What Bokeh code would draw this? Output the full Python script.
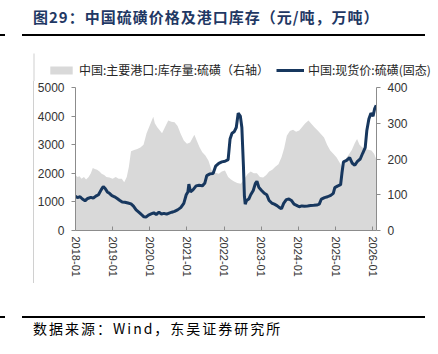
import math
import pandas as pd
from bokeh.plotting import figure
from bokeh.models import (Range1d, LinearAxis, Div, Legend, LegendItem, FixedTicker,
                          DatetimeTickFormatter, BoxAnnotation)
from bokeh.layouts import column, row
from bokeh.embed import file_html
from bokeh.resources import INLINE

title_text = "图29：中国硫磺价格及港口库存（元/吨，万吨）"
source_text = "数据来源：Wind，东吴证券研究所"
stock_label = "中国:主要港口:库存量:硫磺（右轴）"
price_label = "中国:现货价:硫磺(固态)"

price_dates = [
    "2018-01-01", "2018-01-20", "2018-02-15", "2018-03-10", "2018-04-05", "2018-05-01",
    "2018-06-01", "2018-06-25", "2018-07-20", "2018-08-15", "2018-09-10", "2018-10-01",
    "2018-10-20", "2018-11-10", "2018-12-01", "2018-12-25", "2019-01-20", "2019-02-15",
    "2019-03-10", "2019-04-05", "2019-05-01", "2019-06-01", "2019-07-01", "2019-07-25",
    "2019-08-20", "2019-09-15", "2019-10-10", "2019-11-05", "2019-11-25", "2019-12-20",
    "2020-01-15", "2020-02-10", "2020-03-05", "2020-04-01", "2020-04-25", "2020-05-20",
    "2020-06-15", "2020-07-10", "2020-08-05", "2020-09-01", "2020-10-01", "2020-11-01",
    "2020-12-01", "2020-12-25", "2021-01-10", "2021-01-20", "2021-02-05", "2021-03-01",
    "2021-04-01", "2021-05-01", "2021-06-01", "2021-06-25", "2021-07-15", "2021-08-15",
    "2021-09-15", "2021-10-10", "2021-11-10", "2021-12-10", "2022-01-10", "2022-02-10",
    "2022-03-01", "2022-03-20", "2022-04-10", "2022-05-01", "2022-05-20", "2022-06-10",
    "2022-06-25", "2022-07-10", "2022-07-20", "2022-07-28", "2022-08-10", "2022-09-01",
    "2022-09-20", "2022-10-15", "2022-11-05", "2022-11-20", "2022-12-10", "2023-01-05",
    "2023-02-01", "2023-02-25", "2023-03-20", "2023-04-15", "2023-05-10", "2023-06-05",
    "2023-06-30", "2023-07-20", "2023-08-10", "2023-09-05", "2023-10-01", "2023-10-25",
    "2023-11-20", "2023-12-15", "2024-01-10", "2024-02-05", "2024-03-01", "2024-04-01",
    "2024-05-01", "2024-06-01", "2024-07-01", "2024-07-25", "2024-08-15", "2024-09-15",
    "2024-10-15", "2024-11-15", "2024-12-10", "2024-12-25", "2025-01-20", "2025-02-20",
    "2025-03-05", "2025-03-20", "2025-04-20", "2025-05-20", "2025-06-15", "2025-07-10",
    "2025-08-05", "2025-09-01", "2025-09-25", "2025-10-20", "2025-11-05", "2025-11-25",
    "2025-12-15", "2026-01-05", "2026-01-20", "2026-02-05",
]
price_values = [
    1200, 1150, 1180, 1100, 1040, 1120,
    1160, 1130, 1200, 1250, 1420, 1540,
    1470, 1350, 1300, 1220, 1180, 1120,
    1060, 1000, 990, 960, 930, 850,
    720, 640, 560, 480, 470, 540,
    580, 620, 560, 640, 580, 600,
    570, 610, 640, 670, 720, 800,
    950, 1250, 1350, 1620, 1350, 1420,
    1560, 1580, 1560, 1650, 1920, 1980,
    1990, 2250, 2350, 2400, 2420, 2480,
    3200, 3400, 3450, 3600, 4100, 4000,
    3600, 2300, 1200, 920, 1050, 1100,
    1250, 1400, 1650, 1720, 1500, 1400,
    1300, 1250, 1050, 960, 920, 870,
    800, 760, 950, 1080, 1100, 1050,
    920, 880, 830, 860, 850, 860,
    870, 880, 890, 920, 1100, 1150,
    1180, 1230, 1300, 1500, 1550, 1600,
    2000, 2400, 2450, 2550, 2350, 2280,
    2420, 2500, 2700, 2900, 3500, 3900,
    4100, 4000, 4250, 4380,
]

stock_dates = [
    "2018-01-01", "2018-01-20", "2018-02-10", "2018-03-01", "2018-03-25", "2018-04-15",
    "2018-05-10", "2018-06-01", "2018-06-20", "2018-07-10", "2018-08-01", "2018-08-25",
    "2018-09-15", "2018-10-10", "2018-11-01", "2018-12-01", "2019-01-01", "2019-02-01",
    "2019-03-01", "2019-04-01", "2019-04-25", "2019-05-20", "2019-06-10", "2019-07-01",
    "2019-08-01", "2019-09-01", "2019-10-01", "2019-11-01", "2019-12-01", "2020-01-10",
    "2020-02-05", "2020-02-20", "2020-03-15", "2020-04-10", "2020-05-01", "2020-06-01",
    "2020-07-01", "2020-08-01", "2020-09-01", "2020-10-01", "2020-11-01", "2020-12-01",
    "2021-01-01", "2021-02-01", "2021-03-15", "2021-04-10", "2021-05-05", "2021-06-01",
    "2021-07-01", "2021-08-01", "2021-09-01", "2021-10-01", "2021-11-10", "2021-12-10",
    "2022-01-10", "2022-02-10", "2022-03-10", "2022-04-10", "2022-05-10", "2022-06-15",
    "2022-07-20", "2022-08-20", "2022-09-20", "2022-10-20", "2022-11-20", "2022-12-20",
    "2023-01-20", "2023-02-20", "2023-03-20", "2023-04-20", "2023-05-20", "2023-06-20",
    "2023-07-20", "2023-08-15", "2023-09-10", "2023-10-10", "2023-11-10", "2023-12-10",
    "2024-01-10", "2024-02-10", "2024-03-10", "2024-04-10", "2024-05-10", "2024-06-10",
    "2024-07-10", "2024-08-10", "2024-09-10", "2024-10-10", "2024-11-10", "2024-12-10",
    "2025-01-10", "2025-02-10", "2025-03-10", "2025-04-10", "2025-05-10", "2025-06-10",
    "2025-07-10", "2025-08-01", "2025-08-25", "2025-09-20", "2025-10-20", "2025-11-20",
    "2025-12-20", "2026-01-15", "2026-02-05",
]
stock_values = [
    155, 150, 152, 145, 150, 143,
    150, 160, 175, 172, 170, 165,
    159, 155, 150, 148, 145, 150,
    145, 145, 135, 150, 178, 222,
    225, 228, 232, 240, 272, 300,
    318, 300, 289, 280, 272, 290,
    308, 304, 303, 292, 270, 252,
    243, 246, 268, 250, 233, 219,
    210, 195, 168, 162, 159, 165,
    168, 150, 143, 137, 133, 131,
    145, 158, 165, 160, 160, 150,
    148, 155, 165, 170, 178, 185,
    205, 230, 265, 278, 282, 276,
    280, 290, 300, 308, 298, 288,
    280, 270, 260, 240, 224, 215,
    205, 190, 177, 200, 212, 225,
    245, 256, 240, 233, 228, 226,
    224, 215, 200,
]

year_ticks = ["2018-01-01", "2019-01-01", "2020-01-01", "2021-01-01", "2022-01-01",
              "2023-01-01", "2024-01-01", "2025-01-01", "2026-01-01"]
left_ticks = [0, 1000, 2000, 3000, 4000, 5000]
right_ticks = [0, 100, 200, 300, 400]

px = pd.to_datetime(price_dates)
sx = pd.to_datetime(stock_dates)
tick_ms = [pd.Timestamp(t).value // 10**6 for t in year_ticks]

NAVY = "#17375E"
GRAY_AREA = "#D9D9D9"
AXIS = "#8C8C8C"
TXT = "#333333"
VLINE = "#D0D0D0"

# ---- main chart (y 81..316, x 34..438) ----
p = figure(width=404, height=235, x_axis_type="datetime", output_backend="svg",
           toolbar_location=None, margin=0,
           x_range=Range1d(pd.Timestamp("2018-01-01"), pd.Timestamp("2026-02-08")),
           y_range=Range1d(0, 5000),
           min_border_left=39, min_border_right=62, min_border_top=6, min_border_bottom=86)
p.outline_line_color = None
p.grid.visible = False
p.background_fill_color = "white"
p.border_fill_color = "white"
p.extra_y_ranges = {"inv": Range1d(0, 400)}

area = p.varea(x=sx, y1=0, y2=stock_values, y_range_name="inv", fill_color=GRAY_AREA)
line = p.line(x=px, y=price_values, line_color=NAVY, line_width=3)

xa = p.xaxis[0]
xa.ticker = FixedTicker(ticks=tick_ms)
xa.formatter = DatetimeTickFormatter(years="%Y-%m", months="%Y-%m", days="%Y-%m")
xa.major_label_orientation = -math.pi / 2
xa.major_tick_in = 4
xa.major_tick_out = 0
xa.minor_tick_line_color = None
xa.axis_line_color = AXIS
xa.major_tick_line_color = AXIS
xa.major_label_text_font = "Liberation Sans"
xa.major_label_text_font_size = "11px"
xa.major_label_text_color = TXT
xa.major_label_standoff = 6

ya = p.yaxis[0]
ya.ticker = FixedTicker(ticks=left_ticks)
ya.major_tick_in = 0
ya.major_tick_out = 4
ya.minor_tick_line_color = None
ya.axis_line_color = AXIS
ya.major_tick_line_color = AXIS
ya.major_label_text_font = "Liberation Sans"
ya.major_label_text_font_size = "12px"
ya.major_label_text_color = TXT
ya.major_label_standoff = 7

ra = LinearAxis(y_range_name="inv", ticker=FixedTicker(ticks=right_ticks))
ra.major_tick_in = 0
ra.major_tick_out = 4
ra.minor_tick_line_color = None
ra.axis_line_color = AXIS
ra.major_tick_line_color = AXIS
ra.major_label_text_font = "Liberation Sans"
ra.major_label_text_font_size = "12px"
ra.major_label_text_color = TXT
ra.major_label_standoff = 7
p.add_layout(ra, "right")

# ---- legend strip (y 36..81, full width); its renderers lie outside the visible range ----
lg = figure(width=438, height=45, output_backend="svg", toolbar_location=None, margin=0,
            x_range=Range1d(0, 438), y_range=Range1d(0, 45),
            x_axis_location=None, y_axis_location=None,
            min_border_left=0, min_border_right=0, min_border_top=0, min_border_bottom=0)
lg.outline_line_color = None
lg.grid.visible = False
lg.border_fill_color = "white"
lg.background_fill_color = "white"
lg.add_layout(BoxAnnotation(left=33, right=34, bottom=0, top=28, fill_color=VLINE,
                            fill_alpha=1, line_color=None))
lg_area = lg.varea(x=[1000, 1001], y1=[0, 0], y2=[1, 1], fill_color=GRAY_AREA)
lg_line = lg.line(x=[1000, 1001], y=[0, 1], line_color=NAVY, line_width=3)
legend = Legend(items=[LegendItem(label=stock_label, renderers=[lg_area]),
                       LegendItem(label=price_label, renderers=[lg_line])],
                orientation="horizontal", location=(47, 3),
                glyph_width=28, glyph_height=10, label_standoff=4, spacing=7,
                label_width=0, padding=0, margin=0, border_line_color=None,
                background_fill_alpha=0,
                label_text_font="Noto Sans CJK SC", label_text_font_size="12px",
                label_text_color="#262626")
lg.add_layout(legend, "center")

title_div = Div(width=438, height=36, margin=0, text=(
    '<div style="position:relative;width:438px;height:36px;">'
    '<div style="position:absolute;left:33px;top:7px;white-space:nowrap;'
    "font-family:'Noto Sans CJK SC';font-weight:bold;font-size:15px;line-height:20px;"
    f'letter-spacing:1px;color:#1F3864;">{title_text}</div>'
    '<div style="position:absolute;left:22px;top:34px;width:403px;height:2px;background:#000;"></div>'
    '<div style="position:absolute;left:0px;top:34px;width:5px;height:2px;background:#000;"></div>'
    '</div>'))

vline_div = Div(width=34, height=235, margin=0, text=(
    '<div style="position:relative;width:34px;height:235px;">'
    f'<div style="position:absolute;left:33px;top:0px;width:1px;height:202px;background:{VLINE};"></div>'
    '</div>'))

source_div = Div(width=438, height=38, margin=0, text=(
    '<div style="position:relative;width:438px;height:38px;">'
    '<div style="position:absolute;left:22px;top:0px;width:403px;height:2px;background:#000;"></div>'
    '<div style="position:absolute;left:0px;top:0px;width:5px;height:2px;background:#000;"></div>'
    '<div style="position:absolute;left:33px;top:3px;white-space:nowrap;'
    "font-family:'Noto Sans CJK SC';font-size:14px;line-height:18px;letter-spacing:2px;"
    f'color:#000;">{source_text}</div>'
    '</div>'))

layout = column(title_div, lg, row(vline_div, p, spacing=0, margin=0), source_div,
                spacing=0, margin=0)

open("out.html", "w").write(file_html(layout, INLINE))
